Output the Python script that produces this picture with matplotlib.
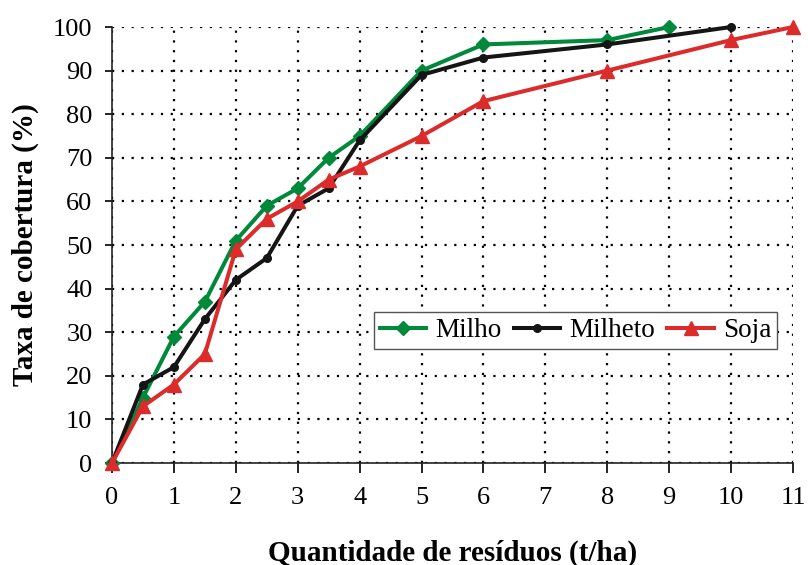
import matplotlib
matplotlib.use("Agg")
import matplotlib.pyplot as plt

plt.rcParams['font.family'] = ['Liberation Serif', 'DejaVu Serif']

milho_x = [0, 0.5, 1, 1.5, 2, 2.5, 3, 3.5, 4, 5, 6, 8, 9]
milho_y = [0, 15, 29, 37, 51, 59, 63, 70, 75, 90, 96, 97, 100]
milheto_x = [0, 0.5, 1, 1.5, 2, 2.5, 3, 3.5, 4, 5, 6, 8, 10]
milheto_y = [0, 18, 22, 33, 42, 47, 59, 63, 74, 89, 93, 96, 100]
soja_x = [0, 0.5, 1, 1.5, 2, 2.5, 3, 3.5, 4, 5, 6, 8, 10, 11]
soja_y = [0, 13, 18, 25, 49, 56, 60, 65, 68, 75, 83, 90, 97, 100]

x_ticks = list(range(0, 12))
y_ticks = list(range(0, 101, 10))

fig = plt.figure(figsize=(8.08, 5.65), dpi=100)
ax = fig.add_axes([0.1386, 0.1805, 0.8428, 0.7717])

green = '#00893A'
black = '#151515'
red = '#DC2B2B'

ax.plot(milho_x, milho_y, color=green, lw=2.9, marker='D', ms=7.5, label='Milho', clip_on=False, zorder=3)
ax.plot(milheto_x, milheto_y, color=black, lw=2.9, marker='o', ms=5.5, label='Milheto', clip_on=False, zorder=4)
ax.plot(soja_x, soja_y, color=red, lw=2.9, marker='^', ms=10, label='Soja', clip_on=False, zorder=5)

ax.set_xlim(0, 11)
ax.set_ylim(0, 100)
ax.set_xticks(x_ticks)
ax.set_yticks(y_ticks)
ax.grid(True, color='black', linestyle=(0, (1, 3.4)), linewidth=1.6)
ax.set_axisbelow(True)
for s in ['top', 'right']:
    ax.spines[s].set_visible(False)
for s in ['left', 'bottom']:
    ax.spines[s].set_linewidth(1.2)
    ax.spines[s].set_color('#222222')
ax.tick_params(axis='x', direction='out', length=7, width=1.2, pad=10, labelsize=19)
ax.tick_params(axis='y', direction='out', length=5, width=1.2, pad=9, labelsize=19)

ax.set_xlabel('Quantidade de resíduos (t/ha)', fontsize=21, fontweight='bold', labelpad=22)
ax.set_ylabel('Taxa de cobertura (%)', fontsize=21, fontweight='bold', labelpad=10)

leg = ax.legend(loc='center', bbox_to_anchor=(0.681, 0.303), ncol=3, fontsize=19.5,
                fancybox=False, framealpha=1, edgecolor='#555555', handlelength=1.7,
                columnspacing=0.45, handletextpad=0.35, borderpad=0.22, borderaxespad=0)
leg.get_frame().set_linewidth(1.0)

fig.savefig('out.png', dpi=100)
